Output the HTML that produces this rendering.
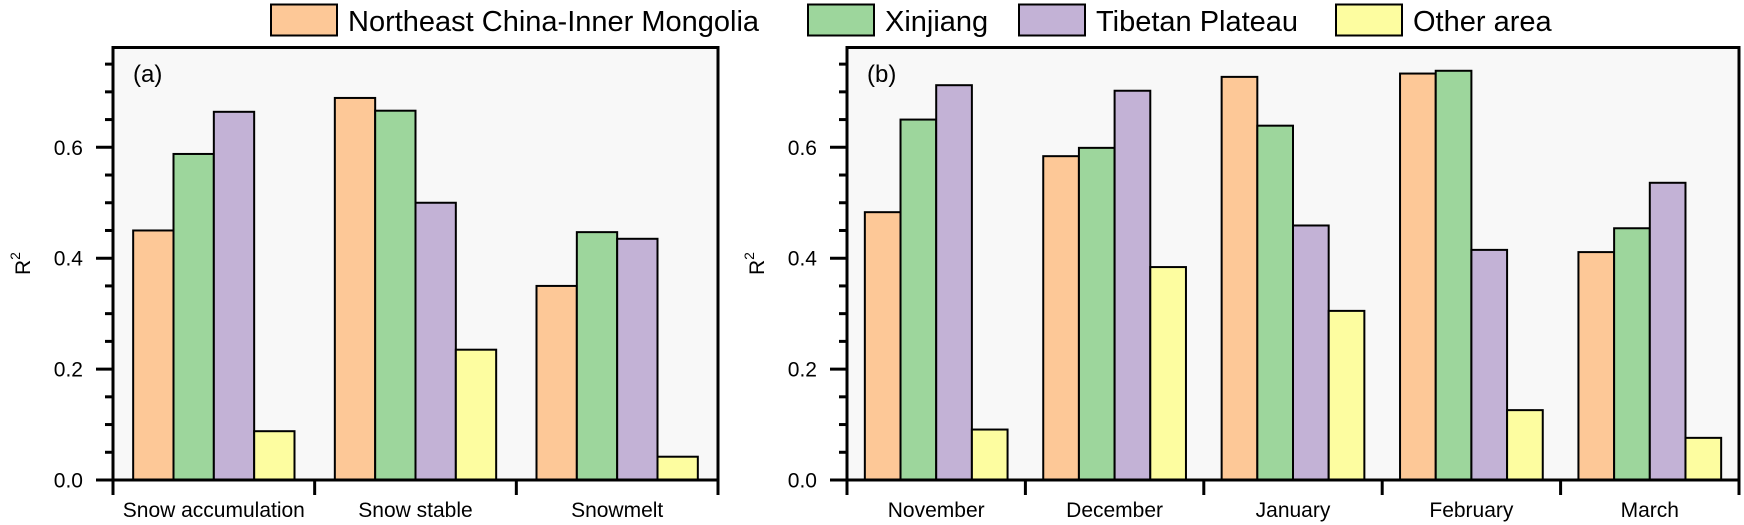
<!DOCTYPE html>
<html><head><meta charset="utf-8"><style>
html,body{margin:0;padding:0;background:#fff;}
svg{display:block;font-family:"Liberation Sans",Arial,sans-serif;}
</style></head><body>
<svg id="chart" width="1744" height="525" viewBox="0 0 1744 525" xmlns="http://www.w3.org/2000/svg"></svg>
<script>
const seriesNames = ["Northeast China-Inner Mongolia","Xinjiang","Tibetan Plateau","Other area"];
const seriesColors = ["#fdc897","#9dd69c","#c3b2d6","#fdfda0"];
const catsA = ["Snow accumulation","Snow stable","Snowmelt"];
const neA = [0.450,0.689,0.350];
const xjA = [0.588,0.666,0.447];
const tpA = [0.664,0.500,0.435];
const otA = [0.088,0.235,0.042];
const catsB = ["November","December","January","February","March"];
const neB = [0.483,0.584,0.727,0.733,0.411];
const xjB = [0.650,0.599,0.639,0.738,0.454];
const tpB = [0.712,0.702,0.459,0.415,0.536];
const otB = [0.091,0.384,0.305,0.126,0.076];
const yTicks = [0.0,0.2,0.4,0.6];
const yTickLabels = ["0.0","0.2","0.4","0.6"];
const yMinor = [0.1,0.3,0.5,0.7,0.05,0.15,0.25,0.35,0.45,0.55,0.65,0.75];

const svg = document.getElementById('chart');
const NS = "http://www.w3.org/2000/svg";
function mk(tag, attrs, parent){
  const e = document.createElementNS(NS, tag);
  for (const k in attrs) e.setAttribute(k, attrs[k]);
  (parent||svg).appendChild(e);
  return e;
}
const y0 = 480, yTop = 47.5, pxPerUnit = 554.5;
function yScale(v){ return y0 - v*pxPerUnit; }

// legend
const legendBoxX = [271,808,1019,1336];
seriesNames.forEach((n,i)=>{
  const g = mk('g',{});
  
  
  const r = mk('rect',{x:legendBoxX[i],y:4.5,width:66,height:31,fill:seriesColors[i],stroke:'#000','stroke-width':2},g);
  
  
  const t = mk('text',{x:legendBoxX[i]+77,y:31,'font-size':29,fill:'#000'},g);
  
  
  t.textContent = n;
});

function panel(name, left, right, cats, series, label, rLabelX){
  const g = mk('g',{});
  
  
  const bg = mk('rect',{x:left,y:yTop,width:right-left,height:y0-yTop,fill:'#f8f8f8'},g);
  
  
  const cw = (right-left)/cats.length;
  const bw = cw*0.8/4;
  cats.forEach((c,ci)=>{
    const gx = left + ci*cw + cw*0.1;
    series.forEach((s,si)=>{
      const v = s[ci];
      const b = mk('rect',{x:gx+si*bw,y:yScale(v),width:bw,height:y0-yScale(v),fill:seriesColors[si],stroke:'#000','stroke-width':2},g);
      
      
    });
    const tl = mk('text',{x:left+ci*cw+cw/2,y:517,'font-size':21,'text-anchor':'middle',fill:'#000'},g);
    
    
    tl.textContent = c;
  });
  for (let i=0;i<=cats.length;i++){
    const tx = left+i*cw;
    const t = mk('line',{x1:tx,x2:tx,y1:y0,y2:495,stroke:'#000','stroke-width':3},g);
    
    
  }
  // frame
  const fr = mk('rect',{x:left,y:yTop,width:right-left,height:y0-yTop,fill:'none',stroke:'#000','stroke-width':3},g);
  
  
  yTicks.forEach((v,i)=>{
    const t = mk('line',{x1:left-17,x2:left,y1:yScale(v),y2:yScale(v),stroke:'#000','stroke-width':3},g);
    
    
    const tl = mk('text',{x:left-30,y:yScale(v)+7.5,'font-size':21,'text-anchor':'end',fill:'#000'},g);
    
    
    tl.textContent = yTickLabels[i];
  });
  yMinor.forEach(v=>{
    const t = mk('line',{x1:left-8,x2:left,y1:yScale(v),y2:yScale(v),stroke:'#000','stroke-width':3},g);
    
    
  });
  const pl = mk('text',{x:left+20,y:82,'font-size':24,fill:'#000'},g);
  
  
  pl.textContent = label;
  const yt = mk('text',{x:0,y:0,'font-size':21,fill:'#000',transform:'translate('+rLabelX+',275) rotate(-90)'},g);
  
  
  yt.innerHTML = 'R<tspan dy="-10" font-size="14">2</tspan>';
}
panel('panel-a',113,718,catsA,[neA,xjA,tpA,otA],'(a)',30);
panel('panel-b',847,1739,catsB,[neB,xjB,tpB,otB],'(b)',764);
</script>
</body></html>
